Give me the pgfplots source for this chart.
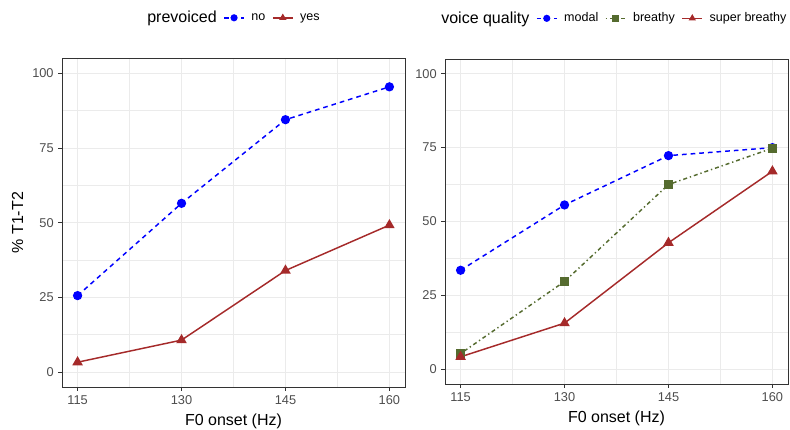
\documentclass[border=0pt]{standalone}
\usepackage{fontspec}
\setmainfont{Liberation Sans}
\usepackage{pgfplots}
\pgfplotsset{compat=1.18}
\definecolor{g92}{HTML}{EBEBEB}
\definecolor{g20}{HTML}{333333}
\definecolor{g30}{HTML}{4D4D4D}
\definecolor{cblue}{HTML}{0000FF}
\definecolor{cbrown}{HTML}{A52A2A}
\definecolor{cgreen}{HTML}{556B2F}
\pgfplotsset{
  ggpanel/.style={
    scale only axis,
    width=257.25pt,
    xmin=112.75, xmax=162.25, ymin=-5, ymax=105,
    xtick={115,130,145,160}, ytick={0,25,50,75,100},
    minor xtick={122.5,137.5,152.5}, minor ytick={12.5,37.5,62.5,87.5},
    grid=both,
    major grid style={color=g92, line width=0.75pt},
    minor grid style={color=g92, line width=0.4pt},
    axis line style={g20, line width=0.6pt},
    tick align=outside, tick pos=left,
    major tick style={g20, line width=0.6pt},
    major tick length=2.75pt, minor tick length=0pt,
    /pgf/number format/assume math mode=true,
    ticklabel style={font=\fontsize{9.6}{11}\selectfont, text=g30},
    xlabel={F0 onset (Hz)},
    xlabel style={font=\fontsize{12}{14}\selectfont, text=black},
    ylabel style={font=\fontsize{12}{14}\selectfont, text=black},
    legend columns=-1,
    legend style={at={(0.5,1)}, anchor=center, yshift=30.5pt, draw=none, fill=none,
      font=\fontsize{9.4}{11}\selectfont, inner sep=0pt,
      nodes={inner sep=0pt},
      /tikz/every odd column/.append style={column sep=5pt},
      /tikz/every even column/.append style={column sep=5pt}},
    legend image code/.code={\draw[mark repeat=2,mark phase=2,mark size=2.1pt] plot coordinates {(0pt,0pt) (7.5pt,0pt) (15pt,0pt)};},
    every axis plot/.append style={line width=1.1pt},
  }
}
\begin{document}
\begin{tikzpicture}
\useasboundingbox (0,0) rectangle (592.5pt,321.75pt);
\begin{axis}[ggpanel, height=246.4pt, at={(46.5pt,31.5pt)}, anchor=south west,
  ylabel={\% T1-T2}, legend style={xshift=-2.5pt}]
\addlegendimage{empty legend}
\addlegendentry{\fontsize{12}{14}\selectfont prevoiced\hspace{2.5pt}}
\addplot[cblue, dash pattern=on 3.5pt off 3pt, mark=*, mark size=2.9pt, mark options={solid}]
  coordinates {(115,25.6) (130,56.5) (145,84.5) (160,95.5)};
\addlegendentry{no}
\addplot[cbrown, solid, mark=triangle*, mark size=3.5pt]
  coordinates {(115,3.3) (130,10.7) (145,34.0) (160,49.2)};
\addlegendentry{yes}
\end{axis}
\begin{axis}[ggpanel, height=243.75pt, at={(333.75pt,33.75pt)}, anchor=south west,
  legend style={xshift=-4.5pt}]
\addlegendimage{empty legend}
\addlegendentry{\fontsize{12}{14}\selectfont voice quality\hspace{2.5pt}}
\addplot[cblue, dash pattern=on 3.5pt off 3pt, mark=*, mark size=2.9pt, mark options={solid}]
  coordinates {(115,33.5) (130,55.6) (145,72.3) (160,75.0)};
\addlegendentry{modal}
\addplot[cgreen, dash pattern=on 1pt off 2.2pt on 3pt off 2.2pt, mark=square*, mark size=2.9pt, mark options={solid}]
  coordinates {(115,5.3) (130,29.7) (145,62.5) (160,74.8)};
\addlegendentry{breathy}
\addplot[cbrown, solid, mark=triangle*, mark size=3.5pt]
  coordinates {(115,4.2) (130,15.6) (145,42.8) (160,67.0)};
\addlegendentry{super breathy}
\end{axis}
\end{tikzpicture}
\end{document}
